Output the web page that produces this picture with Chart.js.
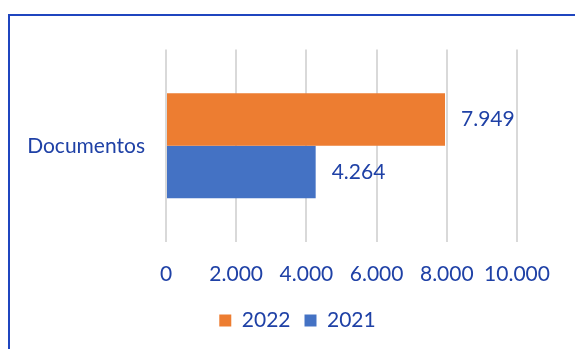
<!DOCTYPE html>
<html>
<head>
<meta charset="utf-8">
<script src="https://cdn.jsdelivr.net/npm/chart.js@4/dist/chart.umd.min.js"></script>
<style>
  html, body { margin: 0; padding: 0; background: #fff; overflow: hidden; }
  #frame { position: absolute; left: 8px; top: 14px; width: 600px; height: 360px;
           border-left: 2px solid #1f45bf; border-top: 2px solid #1f45bf; }
  #wrap { position: absolute; left: 0; top: 0; width: 579px; height: 333px; }
</style>
</head>
<body>
<div id="frame"><div id="wrap"><canvas id="chart"></canvas></div></div>
<script>
// data
const categories = ['Documentos'];
const series2022 = [7949];
const series2021 = [4264];
const seriesNames = ['2022', '2021'];
const tickMax = 10000;
const tickStep = 2000;

const textColor = '#1f41a6';
const fontFamily = 'Lato, "Open Sans", sans-serif';
const fontSize = 21;

// thousands with a dot
const fmt = v => String(v).replace(/\B(?=(\d{3})+(?!\d))/g, '.');

// value labels right of the bars
const valueLabels = {
  id: 'valueLabels',
  afterDatasetsDraw(chart) {
    const ctx = chart.ctx;
    ctx.save();
    ctx.font = fontSize + 'px ' + fontFamily;
    ctx.fillStyle = textColor;
    ctx.textAlign = 'left';
    ctx.textBaseline = 'middle';
    chart.data.datasets.forEach((ds, i) => {
      chart.getDatasetMeta(i).data.forEach((bar, j) => {
        ctx.fillText(fmt(ds.data[j]), bar.x + 16, bar.y);
      });
    });
    ctx.restore();
  }
};

// excel centers the legend a bit right of the canvas middle
const legendShift = {
  id: 'legendShift',
  afterLayout(chart) {
    chart.legend.left += 26;
    chart.legend.right += 26;
  }
};

new Chart(document.getElementById('chart'), {
  type: 'bar',
  data: {
    labels: categories,
    datasets: [
      { label: seriesNames[0], data: series2022, backgroundColor: '#ed7d31' },
      { label: seriesNames[1], data: series2021, backgroundColor: '#4472c4' }
    ]
  },
  options: {
    indexAxis: 'y',
    responsive: true,
    maintainAspectRatio: false,
    animation: false,
    categoryPercentage: 0.545,
    barPercentage: 1,
    layout: { padding: { left: 16, right: 72, top: 26, bottom: 8 } },
    scales: {
      x: {
        min: 0, max: tickMax,
        ticks: { stepSize: tickStep, color: textColor, font: { family: fontFamily, size: fontSize },
                 padding: 20, maxRotation: 0, callback: v => fmt(v) },
        grid: { color: '#d9d9d9', lineWidth: 2, drawTicks: false },
        border: { display: false },
        afterFit: s => { s.height = 54; }
      },
      y: {
        ticks: { color: textColor, font: { family: fontFamily, size: fontSize }, padding: 21 },
        grid: { display: false, drawTicks: false },
        border: { display: false },
        afterFit: s => { s.width = 140; }
      }
    },
    plugins: {
      legend: {
        position: 'bottom',
        labels: { color: textColor, font: { family: fontFamily, size: fontSize },
                  boxWidth: 12, boxHeight: 12, padding: 14 }
      },
      tooltip: { enabled: false }
    }
  },
  plugins: [valueLabels, legendShift]
});
</script>
</body>
</html>
